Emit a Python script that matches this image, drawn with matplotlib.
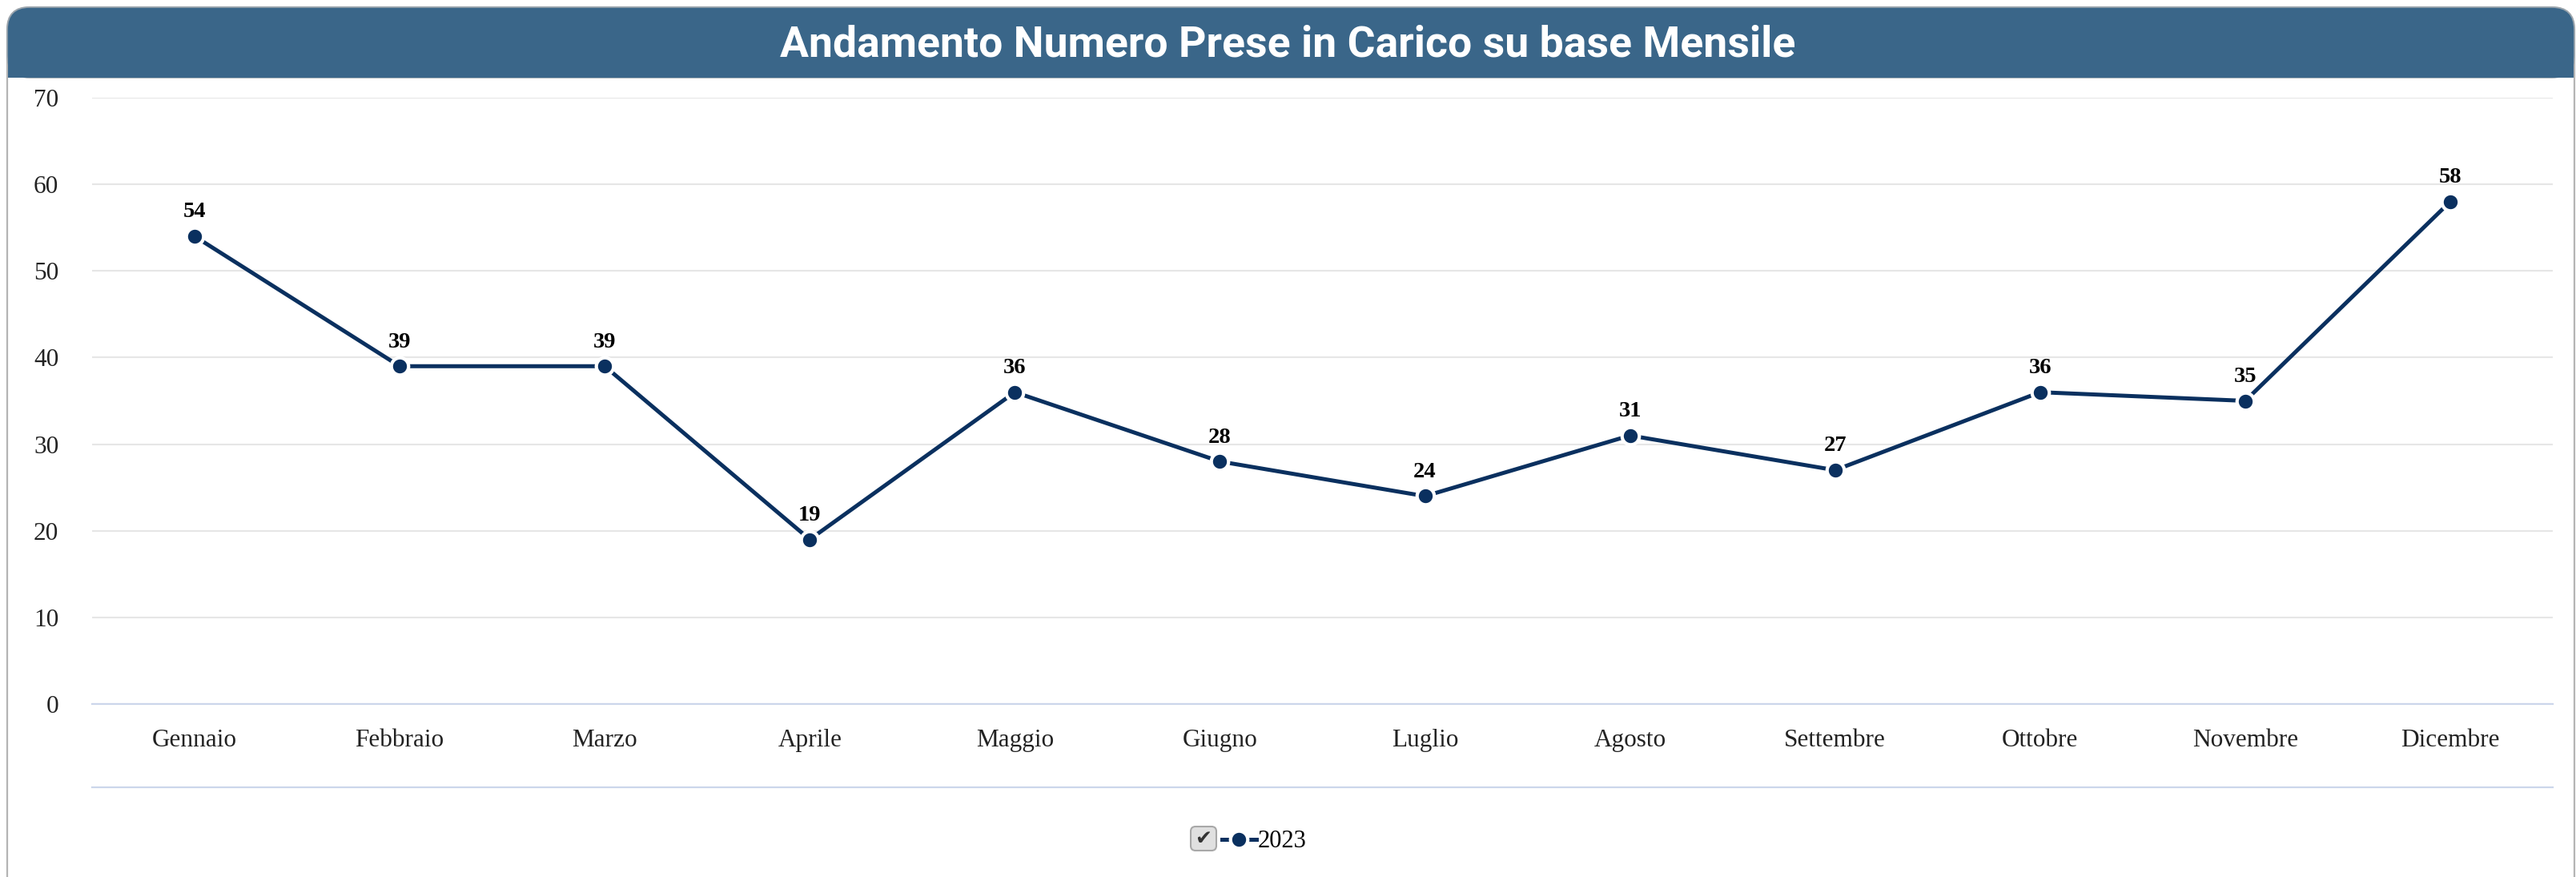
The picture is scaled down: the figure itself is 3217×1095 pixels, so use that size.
import matplotlib
matplotlib.use("Agg")
import matplotlib.pyplot as plt
from matplotlib.patches import FancyBboxPatch, Rectangle
import numpy as np

# dati mensili 2023
mesi = ["Gennaio", "Febbraio", "Marzo", "Aprile", "Maggio", "Giugno",
        "Luglio", "Agosto", "Settembre", "Ottobre", "Novembre", "Dicembre"]
prese_2023 = [54, 39, 39, 19, 36, 28, 24, 31, 27, 36, 35, 58]
y_ticks = [0, 10, 20, 30, 40, 50, 60, 70]
titolo = "Andamento Numero Prese in Carico su base Mensile"
serie = "2023"

W, H = 3217, 1095
navy = "#0a305f"
serif = ["Liberation Serif", "DejaVu Serif"]

fig = plt.figure(figsize=(W / 100, H / 100), dpi=100)

# sfondo in pixel (pannello + barra titolo)
bg = fig.add_axes([0, 0, 1, 1], zorder=0)
bg.set_xlim(0, W)
bg.set_ylim(H, 0)
bg.set_axis_off()
panel = FancyBboxPatch((9, 9), 3206, 1200, boxstyle="round,pad=0,rounding_size=28",
                       facecolor="white", edgecolor="#b4b4b4", linewidth=1.6)
bg.add_patch(panel)
bar = FancyBboxPatch((9, 9), 3206, 88, boxstyle="round,pad=0,rounding_size=28",
                     facecolor="#3a6689", edgecolor="#9aa5ae", linewidth=1.2)
bg.add_patch(bar)
bg.add_patch(Rectangle((9.6, 50), 3204.8, 47, facecolor="#3a6689", edgecolor="none"))
bg.text(W / 2, 56, titolo, color="white", fontsize=38.5, fontweight="bold",
        family="Roboto", ha="center", va="center")
bg.plot([115, 3188], [983, 983], color="#ccd6eb", linewidth=1.6)

# checkbox legenda
bg.add_patch(FancyBboxPatch((1487, 1032), 32, 30, boxstyle="round,pad=0,rounding_size=6",
                            facecolor="#e0e0e0", edgecolor="#a8a8a8", linewidth=1.5))
bg.text(1503, 1047, "\u2714", color="#333333", fontsize=18, family="DejaVu Sans",
        ha="center", va="center")

# grafico
ax = fig.add_axes([115 / W, 1 - 879 / H, (3188 - 115) / W, (879 - 122) / H], zorder=1)
ax.patch.set_alpha(0)
x = np.arange(len(mesi))
line, = ax.plot(x, prese_2023, color=navy, linewidth=3.6, marker="o",
                markersize=15.5, markerfacecolor=navy, markeredgecolor="white",
                markeredgewidth=3, label=serie, zorder=3)
for xi, v in zip(x, prese_2023):
    ax.annotate(str(v), (xi, v), xytext=(0, 17), textcoords="offset points",
                ha="center", va="baseline", fontsize=20.5, fontweight="bold",
                family=serif, color="black", zorder=4)

ax.set_xlim(-0.5, len(mesi) - 0.5)
ax.set_ylim(0, 70)
ax.set_yticks(y_ticks)
ax.set_xticks(x)
ax.set_xticklabels(mesi)
ax.tick_params(axis="both", length=0, labelsize=22.5, colors="#222222")
ax.tick_params(axis="y", pad=30)
ax.tick_params(axis="x", pad=22)
for lab in ax.get_xticklabels() + ax.get_yticklabels():
    lab.set_family(serif)
ax.grid(axis="y", color="#e6e6e6", linewidth=1.5)
ax.set_axisbelow(True)
for s in ["top", "right", "left"]:
    ax.spines[s].set_visible(False)
ax.spines["bottom"].set_color("#ccd6eb")
ax.spines["bottom"].set_linewidth(1.6)

leg = fig.legend(handles=[line], loc="center left",
                 bbox_to_anchor=(1526 / W, 1 - 1051 / H), frameon=False,
                 borderpad=0, borderaxespad=0, handlelength=1.4, handletextpad=0.05,
                 prop={"family": serif, "size": 22})

fig.savefig("out.png", dpi=100)
